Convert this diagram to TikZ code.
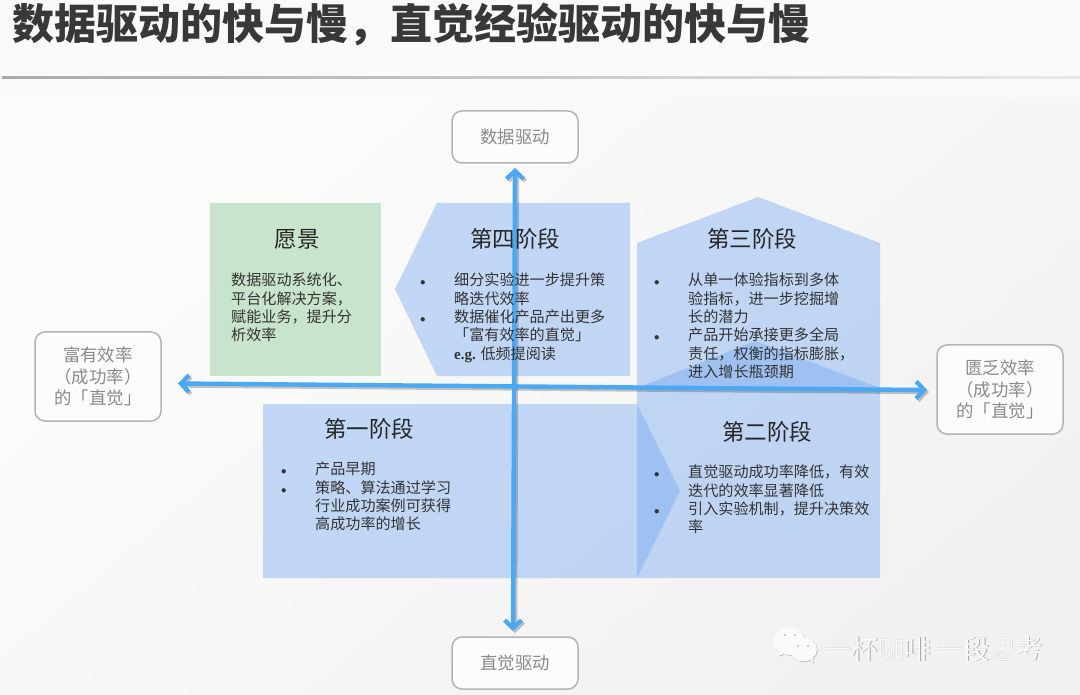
\documentclass[tikz,border=0pt]{standalone}
\usepackage{fontspec}
\setmainfont{Noto Sans CJK SC}
\newfontfamily\latinbold{Liberation Serif}
\usetikzlibrary{arrows.meta}
\definecolor{boxgrey}{HTML}{B4B4B4}
\definecolor{labelgrey}{HTML}{8A8A8A}
\definecolor{bodyink}{HTML}{333333}
\definecolor{stageblue}{HTML}{6AA2F2}
\definecolor{visiongreen}{HTML}{C9E4CC}
\definecolor{axisblue}{HTML}{4AA9F2}
\definecolor{bandwhite}{HTML}{FAFAF8}
\definecolor{panelwhite}{HTML}{FCFCFB}
\definecolor{panelmid}{HTML}{FBFBFA}
\definecolor{panelgrey}{HTML}{F1F1F1}
\tikzstyle{axislabel} = [rectangle, rounded corners=10pt, minimum width=126pt, line width=1.5pt, draw=boxgrey, fill=panelwhite, text=labelgrey, align=center, inner sep=0pt, font=\fontsize{17.4}{21.5}\selectfont]
\tikzstyle{stagefill} = [fill=stageblue, fill opacity=0.38]
\tikzstyle{heading} = [inner sep=0pt, text=black!85, font=\fontsize{22.5}{27}\selectfont]
\tikzstyle{body} = [anchor=north west, inner sep=0pt, align=left, text=bodyink, font=\fontsize{15.1}{18.3}\selectfont]
\tikzstyle{axis} = [line width=4.4pt, {Straight Barb[length=8pt,width=17pt,line width=4.2pt]}-{Straight Barb[length=8pt,width=17pt,line width=4.2pt]}, draw=axisblue]
\tikzstyle{axisshade} = [axis, draw=black, draw opacity=0.22]
\tikzstyle{brand} = [inner sep=0pt, font=\fontsize{26.5}{30}\selectfont]
\tikzstyle{bubbleshade} = [fill=black!30]
\tikzstyle{bubble} = [fill=white!98!black]
\tikzstyle{bubbleeye} = [fill=black!25]
\newcommand{\itemdot}{\llap{\fontsize{11}{11}\selectfont$\bullet$\hspace{28.5pt}}}

\begin{document}
\begin{tikzpicture}[x=1pt,y=-1pt]
\useasboundingbox (0,0) rectangle (1080,695);

% page
\fill [bandwhite] (0,0) rectangle (1080,98);
\shade [top color=panelwhite, middle color=panelmid, bottom color=panelgrey, shading angle=40] (0,98) rectangle (1080,695);
\shade [left color=black!33, right color=black!9] (2,77) rectangle (1080,79);

\node (title) [anchor=west, inner sep=0pt, text=black!78, font=\fontsize{42}{48}\selectfont\bfseries] at (12,25) {数据驱动的快与慢，直觉经验驱动的快与慢};

% quadrants
\fill [visiongreen] (210,203) rectangle (381,376);
\fill [stagefill] (437,203) -- (630,203) -- (630,376) -- (437,376) -- (395,289) -- cycle;
\fill [stagefill] (637,243) -- (758,197) -- (880,243) -- (880,388) -- (637,388) -- cycle;
\fill [stagefill] (637,388) -- (755,341) -- (880,388) -- (880,578) -- (637,578) -- cycle;
\fill [stagefill] (263,404) -- (637,404) -- (680,491) -- (637,578) -- (263,578) -- cycle;

% axes
\node (datadriven) [axislabel, minimum height=52pt] at (515,137) {数据驱动};
\node (intuitive) [axislabel, minimum height=52pt] at (515,663) {直觉驱动};
\node (rich) [axislabel, minimum height=89pt] at (98,376.5) {富有效率\\（成功率）\\的「直觉」};
\node (poor) [axislabel, minimum height=89pt] at (1000,389.5) {匮乏效率\\（成功率）\\的「直觉」};
\coordinate (west) at (178,383.5);
\coordinate (east) at (927,390);
\coordinate (north) at (515,168);
\coordinate (south) at (513,631);
\draw [axisshade] ([shift={(2,2)}]west) -- ([shift={(2,2)}]east);
\draw [axisshade] ([shift={(2,2)}]north) -- ([shift={(2,2)}]south);
\draw [axis] (west) -- (east);
\draw [axis] (north) -- (south);

% texts
\node (vision) [heading] at (297,239) {愿景};
\node (visiontext) [body] at (231,273) {数据驱动系统化、\\平台化解决方案，\\赋能业务，提升分\\析效率};
\node (stage4) [heading] at (515,239) {第四阶段};
\node (stage4text) [body] at (454,273) {\itemdot 细分实验进一步提升策\\略迭代效率\\\itemdot 数据催化产品产出更多\\「富有效率的直觉」\\{\latinbold\bfseries e.g.} 低频提阅读};
\node (stage3) [heading] at (752,239) {第三阶段};
\node (stage3text) [body] at (688,273) {\itemdot 从单一体验指标到多体\\验指标，进一步挖掘增\\长的潜力\\\itemdot 产品开始承接更多全局\\责任，权衡的指标膨胀，\\进入增长瓶颈期};
\node (stage2) [heading] at (767,432) {第二阶段};
\node (stage2text) [body] at (688,465) {\itemdot 直觉驱动成功率降低，有效\\迭代的效率显著降低\\\itemdot 引入实验机制，提升决策效\\率};
\node (stage1) [heading] at (369,429) {第一阶段};
\node (stage1text) [body] at (315,462) {\itemdot 产品早期\\\itemdot 策略、算法通过学习\\行业成功案例可获得\\高成功率的增长};

% watermark
\fill [bubbleshade] (789.6,641.6) circle [x radius=16, y radius=14];
\fill [bubbleshade] (780,650) -- (778.6,656.6) -- (787,654) -- cycle;
\fill [bubble] (789,641) circle [x radius=16, y radius=14];
\fill [bubble] (780,650) -- (778,656) -- (787,653) -- cycle;
\fill [bubbleshade] (804.1,650.1) circle [x radius=13.5, y radius=12];
\fill [bubbleshade] (808,658) -- (813.6,663.6) -- (813,656) -- cycle;
\fill [bubble] (803.5,649.5) circle [x radius=13.5, y radius=12];
\fill [bubble] (808,657) -- (813,663) -- (813,655) -- cycle;
\fill [bubbleeye] (785,635) circle [radius=1.2];
\fill [bubbleeye] (795,635) circle [radius=1.2];
\fill [bubbleeye] (798,646) circle [radius=1.2];
\fill [bubbleeye] (808,646) circle [radius=1.2];
\node (brandshade) [brand, anchor=west, text=black!35] at (825.5,649.5) {一杯咖啡 一段思考};
\node (brandtext) [brand, anchor=west, text=white!98!black] at (825,649) {一杯咖啡 一段思考};

\end{tikzpicture}
\end{document}
